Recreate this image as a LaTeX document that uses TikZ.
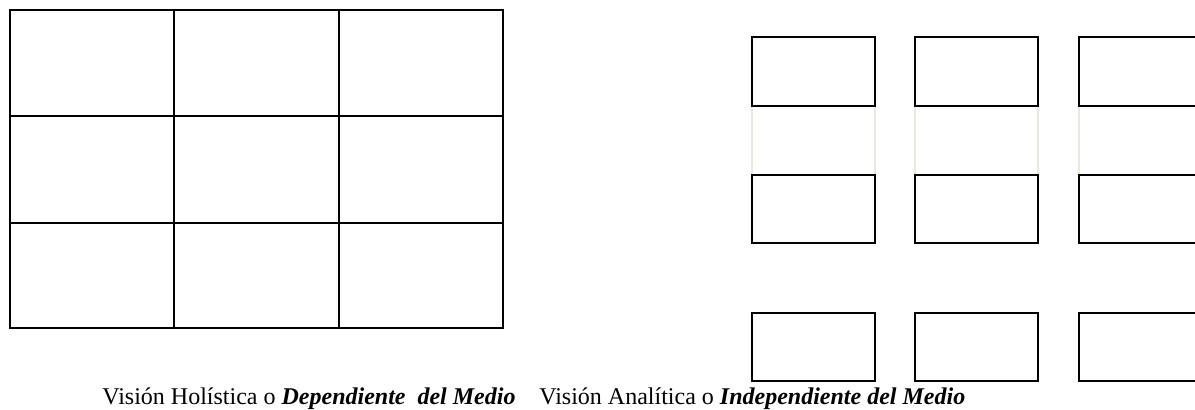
\documentclass[tikz,border=0pt]{standalone}
\usepackage{fontspec}
\setmainfont{Liberation Serif}
\definecolor{faint}{RGB}{236,232,220}
\begin{document}
\begin{tikzpicture}[x=0.5pt,y=-0.5pt,
  gridline/.style={draw=black,line width=1.1pt},
  boxline/.style={draw=black,line width=1pt},
  thinbox/.style={draw=black,line width=0.75pt},
  faintline/.style={draw=faint,line width=0.7pt},
  caption/.style={anchor=base west,inner sep=0pt,font=\fontsize{12}{14}\selectfont}]
\useasboundingbox (0,0) rectangle (1195,409);
\clip (0,0) rectangle (1195,409);
% left grid
\draw[gridline] (10,10) rectangle (503,328);
\draw[gridline] (174,10) -- (174,328);
\draw[gridline] (339,10) -- (339,328);
\draw[gridline] (10,116) -- (503,116);
\draw[gridline] (10,223) -- (503,223);
% right boxes: faint connectors between rows 1 and 2
\foreach \xa/\xb in {752/875,915/1038,1079/1210}{
  \draw[faintline] (\xa,106) -- (\xa,175);
  \draw[faintline] (\xb,106) -- (\xb,175);
}
\foreach \xa/\xb in {752/875,915/1038,1079/1210}{
  \draw[boxline] (\xa,37) rectangle (\xb,106);
  \draw[boxline] (\xa,175) rectangle (\xb,243);
  \draw[thinbox] (\xa,313) rectangle (\xb,381);
}
% captions
\node[caption] (holistic) at (102,404) {Visión Holística o \textbf{\textit{Dependiente\ \ del Medio}}};
\node[caption] (analytic) at (539,404) {Visión Analítica o \textbf{\textit{Independiente del Medio}}};
\end{tikzpicture}
\end{document}
